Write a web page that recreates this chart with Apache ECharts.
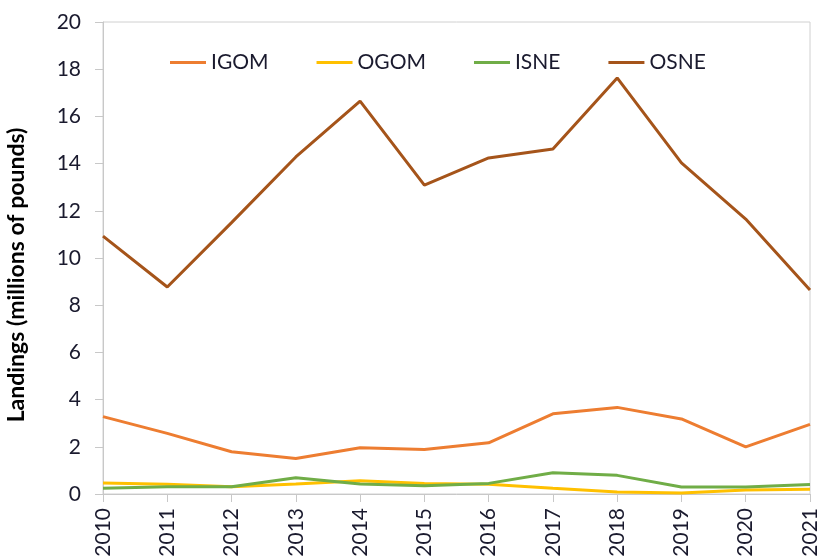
<!DOCTYPE html>
<html><head><meta charset="utf-8">
<script src="https://cdn.jsdelivr.net/npm/echarts@6/dist/echarts.min.js"></script>
<style>html,body{margin:0;padding:0;background:#fff}#c{width:822px;height:556px}</style>
</head><body><div id="c"></div>
<script>
const years = ['2010','2011','2012','2013','2014','2015','2016','2017','2018','2019','2020','2021'];
const IGOM = [3.28, 2.57, 1.79, 1.50, 1.96, 1.89, 2.17, 3.40, 3.67, 3.18, 2.00, 2.95];
const OGOM = [0.47, 0.41, 0.31, 0.42, 0.56, 0.44, 0.41, 0.24, 0.08, 0.04, 0.17, 0.20];
const ISNE = [0.24, 0.31, 0.31, 0.69, 0.42, 0.35, 0.45, 0.90, 0.79, 0.30, 0.30, 0.40];
const OSNE = [10.93, 8.77, 11.5, 14.28, 16.65, 13.09, 14.24, 14.62, 17.63, 14.03, 11.65, 8.64];
const yTicks = [0, 2, 4, 6, 8, 10, 12, 14, 16, 18, 20];

const txt = '#1a1a2e';
const font = 'Lato, "Open Sans", "Liberation Sans", sans-serif';
const chart = echarts.init(document.getElementById('c'), null, {renderer: 'canvas'});
const mk = (name, data, color) => ({
  name, type: 'line', data, symbol: 'none', smooth: false,
  lineStyle: {color, width: 3}, itemStyle: {color}
});
chart.setOption({
  animation: false,
  textStyle: {fontFamily: font},
  grid: {left: 103, top: 22, right: 12, bottom: 62, show: true, borderColor: '#d0d0d0', borderWidth: 1,
    containLabel: false, outerBoundsMode: 'none'},
  legend: {
    top: 47, left: 165, itemWidth: 36, itemHeight: 3, itemGap: 48,
    icon: 'rect',
    textStyle: {fontSize: 21, color: txt, fontFamily: font},
    data: ['IGOM', 'OGOM', 'ISNE', 'OSNE']
  },
  xAxis: {
    type: 'category', data: years, boundaryGap: false,
    axisLine: {lineStyle: {color: '#c8c8c8', width: 1}},
    axisTick: {show: true, inside: false, length: 8, lineStyle: {color: '#c8c8c8'}},
    axisLabel: {rotate: 90, fontSize: 21, color: txt, margin: 14, fontFamily: font, interval: 0},
    splitLine: {show: false}
  },
  yAxis: {
    type: 'value', min: 0, max: 20, interval: 2,
    name: 'Landings (millions of pounds)', nameLocation: 'middle', nameGap: 75,
    nameTextStyle: {fontSize: 23, fontWeight: 'bold', color: '#000', fontFamily: font, padding: [0, 34, 0, 0]},
    axisLine: {show: true, lineStyle: {color: '#c8c8c8', width: 1}},
    axisTick: {show: true, inside: false, length: 8, lineStyle: {color: '#c8c8c8'}},
    axisLabel: {fontSize: 21, color: txt, margin: 22, fontFamily: font,
      formatter: v => yTicks.includes(v) ? String(v) : ''},
    splitLine: {show: false}
  },
  series: [
    mk('IGOM', IGOM, '#ED7D31'),
    mk('OGOM', OGOM, '#FFC000'),
    mk('ISNE', ISNE, '#70AD47'),
    mk('OSNE', OSNE, '#A5541A')
  ]
});
</script></body></html>
